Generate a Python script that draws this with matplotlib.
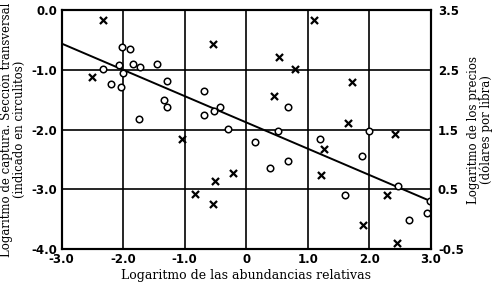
import matplotlib.pyplot as plt

# Datos leidos de la figura
# circulitos: logaritmo de captura (eje izquierdo)
circ_x = [-2.01, -1.88, -2.07, -1.84, -1.73, -1.45, -2.33, -2.0, -2.2, -2.04,
          -1.29, -1.34, -1.29, -1.74, -0.68, 0.68, -0.42, -0.52, -0.68, -0.3,
          0.51, 0.14, 0.67, 0.39, 2.0, 1.2, 1.88, 1.61, 2.47, 2.98, 2.93, 2.65]
circ_y = [-0.62, -0.65, -0.92, -0.90, -0.96, -0.91, -0.99, -1.05, -1.23, -1.28,
          -1.18, -1.50, -1.63, -1.82, -1.35, -1.63, -1.63, -1.69, -1.76, -1.99,
          -2.03, -2.21, -2.53, -2.65, -2.02, -2.16, -2.45, -3.10, -2.95, -3.20, -3.39, -3.52]

# cruces: logaritmo de los precios (eje derecho)
cruz_x = [-2.33, -2.5, -0.54, 0.53, 0.79, 0.45, 1.1, 1.72, 1.65, -1.05,
          -0.22, -0.51, -0.83, -0.54, 2.41, 1.27, 1.22, 2.28, 1.89, 2.45]
cruz_y = [3.33, 2.38, 2.93, 2.71, 2.52, 2.07, 3.33, 2.30, 1.61, 1.34,
          0.77, 0.64, 0.42, 0.26, 1.43, 1.18, 0.74, 0.40, -0.10, -0.40]

# recta de ajuste
recta_x = [-3.0, 3.0]
recta_y = [-0.56, -3.2]

xticks = [-3, -2, -1, 0, 1, 2, 3]
xlabels = ['-3.0', '-2.0', '-1.0', '0', '1.0', '2.0', '3.0']
yticks = [0, -1, -2, -3, -4]
ylabels = ['0.0', '-1.0', '-2.0', '-3.0', '-4.0']
y2ticks = [3.5, 2.5, 1.5, 0.5, -0.5]
y2labels = ['3.5', '2.5', '1.5', '0.5', '-0.5']

fig = plt.figure(figsize=(5, 2.87), dpi=100)
ax = fig.add_axes([0.123, 0.132, 0.739, 0.833])

ax.plot(recta_x, recta_y, color='black', lw=1.4, zorder=3)
ax.scatter(circ_x, circ_y, s=22, facecolors='white', edgecolors='black', linewidths=1.1, zorder=4)
ax.set_xlim(-3, 3)
ax.set_ylim(-4, 0)

ax.set_xticks(xticks)
ax.set_xticklabels(xlabels)
ax.set_yticks(yticks)
ax.set_yticklabels(ylabels)
ax.tick_params(length=0, labelsize=8.5, pad=3)
for lab in ax.get_xticklabels() + ax.get_yticklabels():
    lab.set_fontweight('bold')
ax.grid(color='black', lw=1.2)
ax.set_axisbelow(True)
for s in ax.spines.values():
    s.set_linewidth(1.5)

ax.set_xlabel('Logaritmo de las abundancias relativas', family='DejaVu Serif', fontsize=9, labelpad=2)
ax.set_ylabel('Logaritmo de captura. Sección transversal\n(indicado en circulitos)',
              family='DejaVu Serif', fontsize=8.5, labelpad=4, linespacing=1.0)

ax2 = ax.twinx()
ax2.scatter(cruz_x, cruz_y, s=26, marker='x', color='black', linewidths=1.6, zorder=4)
ax2.set_ylim(-0.5, 3.5)
ax2.set_yticks(y2ticks)
ax2.set_yticklabels(y2labels)
ax2.tick_params(length=0, labelsize=8.5, pad=5)
for lab in ax2.get_yticklabels():
    lab.set_fontweight('bold')
for s in ax2.spines.values():
    s.set_linewidth(1.5)
ax2.set_ylabel('Logaritmo de los precios\n(dólares por libra)', family='DejaVu Serif',
               fontsize=8.5, labelpad=2, linespacing=1.0)

fig.savefig('out.png', dpi=100)
